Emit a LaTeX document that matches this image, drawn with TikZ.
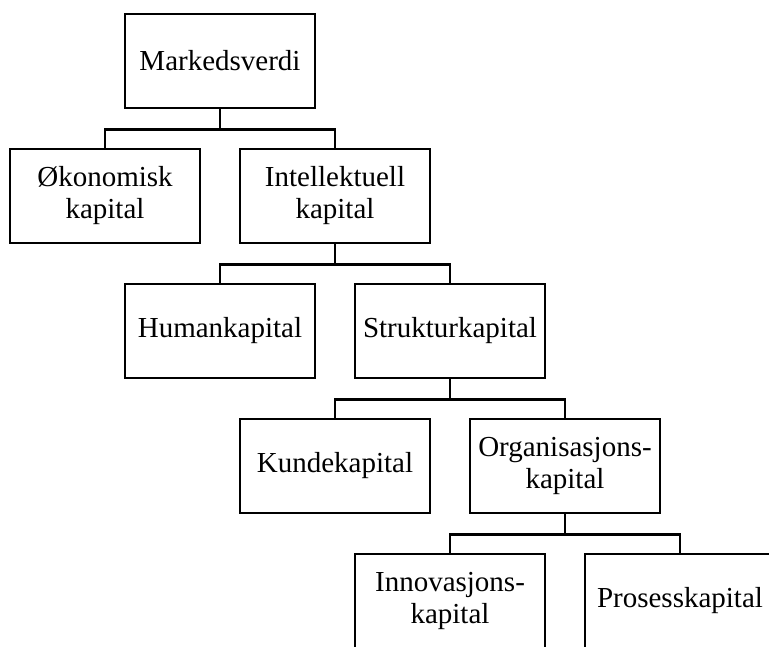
\documentclass[tikz,border=0pt]{standalone}
\usepackage{fontspec}
\setmainfont{Liberation Serif}
\begin{document}
\begin{tikzpicture}[x=1pt,y=-1pt,
  box/.style={draw=black, line width=2.5pt, rectangle, minimum width=190pt,
    minimum height=94pt, align=center, inner sep=2pt,
    font=\fontsize{29}{32}\selectfont},
  link/.style={draw=black, line width=2.5pt}]
  % page frame
  \clip (0,0) rectangle (769,646);
  \fill[white] (0,0) rectangle (769,646);

  % boxes of the capital tree
  \node[box] (mv)  at (220,61)  {Markedsverdi};
  \node[box] (ok)  at (105,196) {Økonomisk\\kapital};
  \node[box] (ik)  at (335,196) {Intellektuell\\kapital};
  \node[box] (hk)  at (220,331) {Humankapital};
  \node[box] (sk)  at (450,331) {Strukturkapital};
  \node[box] (kk)  at (335,466) {Kundekapital};
  \node[box] (ok2) at (565,466) {Organisasjons-\\kapital};
  \node[box] (inn) at (450,601) {Innovasjons-\\kapital};
  \node[box] (pk)  at (680,601) {Prosesskapital};

  % orthogonal connectors: parent down, across, child
  \draw[link] (mv.south)  -- ++(0,20) -| (ok.north);
  \draw[link] (mv.south)  -- ++(0,20) -| (ik.north);
  \draw[link] (ik.south)  -- ++(0,20) -| (hk.north);
  \draw[link] (ik.south)  -- ++(0,20) -| (sk.north);
  \draw[link] (sk.south)  -- ++(0,20) -| (kk.north);
  \draw[link] (sk.south)  -- ++(0,20) -| (ok2.north);
  \draw[link] (ok2.south) -- ++(0,20) -| (inn.north);
  \draw[link] (ok2.south) -- ++(0,20) -| (pk.north);
\end{tikzpicture}
\end{document}
